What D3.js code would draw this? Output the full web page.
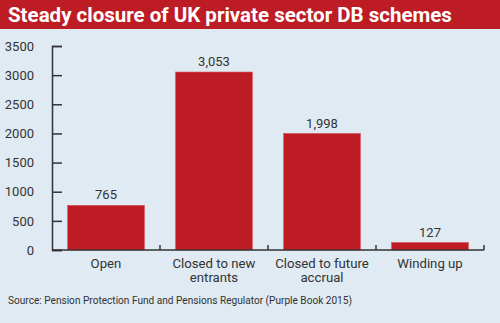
<!DOCTYPE html>
<html>
<head>
<meta charset="utf-8">
<script src="https://cdn.jsdelivr.net/npm/d3@7"></script>
<style>
  html, body { margin: 0; padding: 0; background: #dfeaf2; }
  svg { display: block; font-family: Roboto, "Open Sans", sans-serif; }
</style>
</head>
<body>
<svg id="chart" width="500" height="323"></svg>
<script>
// Number of UK private sector DB schemes by status
const categories = ["Open", "Closed to new entrants", "Closed to future accrual", "Winding up"];
const categoryLines = [["Open"], ["Closed to new", "entrants"], ["Closed to future", "accrual"], ["Winding up"]];
const schemes = [765, 3053, 1998, 127];
const yTicks = [0, 500, 1000, 1500, 2000, 2500, 3000, 3500];

const W = 500, H = 323;
const red = "#be1c24";
const ink = "#333333";
const margin = { left: 52, right: 16, top: 46, bottom: 73 };

const svg = d3.select("#chart");

// background + title banner
svg.append("rect").attr("width", W).attr("height", H).attr("fill", "#dfeaf2");
svg.append("rect").attr("width", W).attr("height", 29).attr("fill", red);
svg.append("text")
  .attr("x", 8).attr("y", 21.5)
  .attr("fill", "#fff")
  .attr("font-size", 20.5)
  .attr("font-weight", 700)
  .text("Steady closure of UK private sector DB schemes");

const x = d3.scaleBand()
  .domain(categories)
  .range([margin.left, W - margin.right])
  .paddingInner(0.29)
  .paddingOuter(0.145);

const y = d3.scaleLinear()
  .domain([0, 3500])
  .range([H - margin.bottom, margin.top]);

// y axis with ticks pointing into the plot
const yAxis = svg.append("g")
  .attr("transform", `translate(${margin.left},0)`)
  .call(d3.axisLeft(y).tickValues(yTicks).tickSize(-10).tickPadding(18).tickFormat(d3.format("d")));
yAxis.select(".domain").attr("stroke", ink).attr("stroke-width", 1.5);
yAxis.selectAll(".tick line").attr("stroke", ink).attr("stroke-width", 1.5);
yAxis.selectAll(".tick text").attr("fill", ink).attr("font-size", 13)
  .attr("font-family", "Roboto, sans-serif");

// bars
svg.append("g").selectAll("rect")
  .data(schemes)
  .join("rect")
  .attr("x", (d, i) => x(categories[i]))
  .attr("y", d => y(d))
  .attr("width", x.bandwidth())
  .attr("height", d => y(0) - y(d))
  .attr("fill", red)
  .attr("stroke", "#d8464b")
  .attr("stroke-width", 0.6);

// value labels
svg.append("g").selectAll("text")
  .data(schemes)
  .join("text")
  .attr("x", (d, i) => x(categories[i]) + x.bandwidth() / 2)
  .attr("y", d => y(d) - 6)
  .attr("text-anchor", "middle")
  .attr("fill", ink)
  .attr("font-size", 13)
  .text(d => d3.format(",")(d));

// x baseline with category boundary ticks
const step = x.step();
const xAxis = svg.append("g");
xAxis.append("line")
  .attr("x1", margin.left).attr("x2", W - margin.right)
  .attr("y1", y(0)).attr("y2", y(0))
  .attr("stroke", ink).attr("stroke-width", 1.5);
xAxis.selectAll("line.bound")
  .data(categories)
  .join("line")
  .attr("class", "bound")
  .attr("x1", (d, i) => margin.left + step * (i + 1))
  .attr("x2", (d, i) => margin.left + step * (i + 1))
  .attr("y1", y(0)).attr("y2", y(0) - 5)
  .attr("stroke", ink).attr("stroke-width", 1.5);

// category labels, one text element per line
const labelLines = categories.flatMap((c, i) =>
  categoryLines[i].map((line, j) => ({ c, line, j })));
svg.append("g").selectAll("text")
  .data(labelLines)
  .join("text")
  .attr("x", d => x(d.c) + x.bandwidth() / 2)
  .attr("y", d => y(0) + 18 + d.j * 14)
  .attr("text-anchor", "middle")
  .attr("fill", ink)
  .attr("font-size", 13.2)
  .text(d => d.line);

// source note
svg.append("text")
  .attr("x", 8).attr("y", 304)
  .attr("fill", ink)
  .attr("font-size", 10.1)
  .text("Source: Pension Protection Fund and Pensions Regulator (Purple Book 2015)");
</script>
</body>
</html>
